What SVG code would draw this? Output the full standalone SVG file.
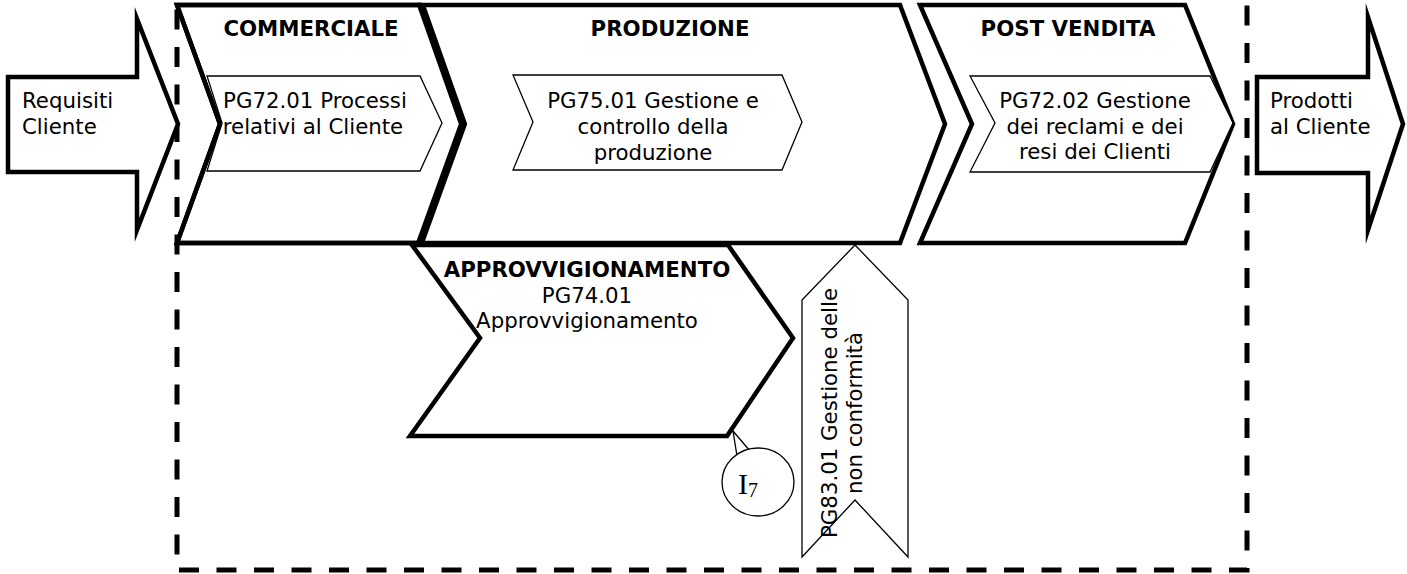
<svg xmlns="http://www.w3.org/2000/svg" width="1407" height="574" viewBox="0 0 1407 574">
<style>
.bg{fill:#fff}
.thick{fill:#fff;stroke:#000;stroke-width:4.5;stroke-linejoin:miter;stroke-miterlimit:10}
.outline{fill:none;stroke:#000;stroke-width:4.5;stroke-linejoin:miter;stroke-miterlimit:10}
.heavy{fill:none;stroke:#000;stroke-width:8;stroke-linejoin:miter;stroke-miterlimit:10}
.thin{fill:#fff;stroke:#000;stroke-width:1.3;stroke-linejoin:miter}
.dash{fill:none;stroke:#000;stroke-width:5;stroke-dasharray:20 17.5}
.t{font-family:"DejaVu Sans",Verdana,sans-serif;font-size:21.3px;fill:#000}
.b{font-weight:bold}
.c{text-anchor:middle}
.serif{font-family:"Liberation Serif","Times New Roman",serif;fill:#000}
</style>
<rect class="bg" x="0" y="0" width="1407" height="574"/>
<g id="boundary">
<rect class="dash" x="177" y="-12" width="1070" height="582"/>
</g>
<g id="requisiti">
<polygon class="thick" points="8,77 137,77 137,19 178,124 137,230 137,172 8,172"/>
<text class="t" x="22" y="108">Requisiti</text>
<text class="t" x="22" y="134">Cliente</text>
</g>
<g id="prodotti">
<polygon class="thick" points="1257,77 1368,77 1368,17 1403,124 1368,230 1368,173 1257,173"/>
<text class="t" x="1270" y="108">Prodotti</text>
<text class="t" x="1270" y="134">al Cliente</text>
</g>
<g id="commerciale">
<polygon class="thick" points="177,5 420,5 462,124 420,243 177,243 220,124"/>
<polygon class="thin" points="207,76 420,76 442,123 420,171 207,171 222,123"/>
<text class="t b c" x="311" y="36">COMMERCIALE</text>
<text class="t c" x="315" y="108">PG72.01 Processi</text>
<text class="t c" x="313" y="134">relativi al Cliente</text>
<polygon class="outline" points="177,5 420,5 462,124 420,243 177,243 220,124"/>
</g>
<g id="produzione">
<polygon class="thick" points="420,5 900,5 945,124 900,243 420,243 464,124"/>
<path class="heavy" d="M421,5 L463,124 L420,243"/>
<polygon class="thin" points="513,75 782,75 802,122 782,170 513,170 533,122"/>
<text class="t b c" x="670" y="36">PRODUZIONE</text>
<text class="t c" x="653" y="108">PG75.01 Gestione e</text>
<text class="t c" x="653" y="134">controllo della</text>
<text class="t c" x="653" y="160">produzione</text>
</g>
<g id="postvendita">
<polygon class="thick" points="920,5 1185,5 1233,124 1185,243 920,243 972,124"/>
<polygon class="thin" points="970,76 1210,76 1233,123 1210,172 970,172 995,123"/>
<text class="t b c" x="1068" y="36">POST VENDITA</text>
<text class="t c" x="1095" y="108">PG72.02 Gestione</text>
<text class="t c" x="1095" y="134">dei reclami e dei</text>
<text class="t c" x="1095" y="159">resi dei Clienti</text>
</g>
<g id="approvvigionamento">
<polygon class="thick" points="412,245 728,245 793,338 727,436 410,436 480,338"/>
<text class="t b c" x="587" y="277">APPROVVIGIONAMENTO</text>
<text class="t c" x="587" y="303">PG74.01</text>
<text class="t c" x="587" y="328">Approvvigionamento</text>
</g>
<g id="nonconformita">
<polygon class="thin" points="855,245 908,300 908,557 855,500 802,557 802,300"/>
<text class="t c" transform="translate(837,413) rotate(-90)">PG83.01 Gestione delle</text>
<text class="t c" transform="translate(862,413) rotate(-90)">non conformità</text>
</g>
<g id="i7">
<path d="M 737,456 L 733,431 L 750,451" fill="#fff" stroke="#000" stroke-width="1.3"/>
<ellipse cx="758" cy="482" rx="36" ry="34" fill="#fff" stroke="#000" stroke-width="1.3"/>
<path d="M 738,457 L 749,451" fill="none" stroke="#fff" stroke-width="2.5"/>
<text class="serif" x="738" y="494" font-size="30">I<tspan font-size="20" dy="3">7</tspan></text>
</g>
<g id="connectors"></g>
</svg>
